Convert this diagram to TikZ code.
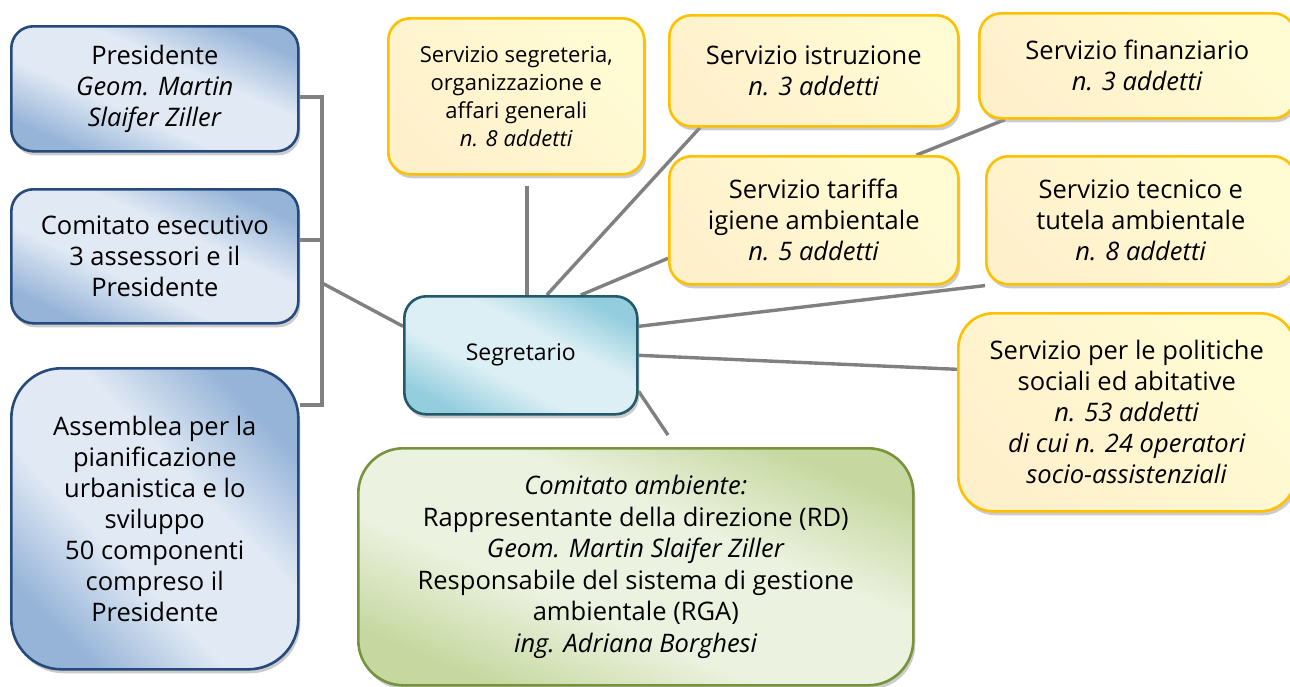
\documentclass[tikz,border=0pt]{standalone}
\usepackage{fontspec}
\setmainfont{Open Sans}
\usetikzlibrary{shadows,backgrounds}

\definecolor{bluedge}{RGB}{38,74,124}
\definecolor{bluelight}{RGB}{224,233,244}
\definecolor{bluedark}{RGB}{150,180,216}
\definecolor{yeledge}{RGB}{255,192,0}
\definecolor{yellight}{RGB}{255,252,212}
\definecolor{yeldark}{RGB}{255,240,204}
\definecolor{grnedge}{RGB}{119,147,60}
\definecolor{grnlight}{RGB}{236,242,224}
\definecolor{grndark}{RGB}{198,216,160}
\definecolor{tealedge}{RGB}{35,89,106}
\definecolor{teallight}{RGB}{220,239,244}
\definecolor{tealdark}{RGB}{148,206,222}
\definecolor{conngray}{RGB}{128,128,128}

\pgfdeclareverticalshading{bluband}{100bp}{color(0bp)=(bluedark); color(25bp)=(bluedark);
	color(41bp)=(bluelight); color(59bp)=(bluelight); color(75bp)=(bluedark); color(100bp)=(bluedark)}
\pgfdeclareverticalshading{grnband}{100bp}{color(0bp)=(grndark); color(25bp)=(grndark);
	color(41bp)=(grnlight); color(59bp)=(grnlight); color(75bp)=(grndark); color(100bp)=(grndark)}
\pgfdeclareverticalshading{tealband}{100bp}{color(0bp)=(tealdark); color(25bp)=(tealdark);
	color(41bp)=(teallight); color(59bp)=(teallight); color(75bp)=(tealdark); color(100bp)=(tealdark)}

\tikzset{
	boxbase/.style={draw, line width=2.6pt, inner sep=0pt, align=center, anchor=north west,
		rounded corners=22pt,
		drop shadow={shadow xshift=2pt, shadow yshift=-4pt, fill=black!40, opacity=.5}},
	blubox/.style={boxbase, draw=bluedge, shade, shading=bluband, shading angle=#1,
		font=\fontsize{25.5}{31}\selectfont},
	blubox/.default=135,
	yelbox/.style={boxbase, draw=yeledge, left color=yeldark, right color=yellight,
		shading angle=135, font=\fontsize{25.5}{31}\selectfont},
	grnbox/.style={boxbase, draw=grnedge, shade, shading=grnband, shading angle=157,
		font=\fontsize{25.5}{31.6}\selectfont},
	segbox/.style={boxbase, draw=tealedge, shade, shading=tealband, shading angle=153,
		font=\fontsize{23}{28}\selectfont},
	conn/.style={draw=conngray, line width=3.4pt},
}

\begin{document}
\begin{tikzpicture}[x=1pt, y=-1pt]
			%%%%% START %%%%%
			\useasboundingbox (0,0) rectangle (1290,686);
			
			% organi politici
			\node[blubox=156, minimum width=287pt, minimum height=125pt] (pres) at (10,25)
				{Presidente\\\textit{Geom. Martin}\\\textit{Slaifer Ziller}};
			\node[blubox=155, minimum width=287pt, minimum height=134pt] (comit) at (10,188)
				{Comitato esecutivo\\3 assessori e il\\Presidente};
			\node[blubox=134, rounded corners=50pt, minimum width=287pt, minimum height=301pt] (assem) at (10,367)
				{Assemblea per la\\pianificazione\\urbanistica e lo\\sviluppo\\50 componenti\\compreso il\\Presidente};
			
			% segretario
			\node[segbox, minimum width=233pt, minimum height=118pt] (segr) at (403,295) {Segretario};
			
			% servizi
			\node[yelbox, font=\fontsize{22}{28}\selectfont, minimum width=256pt, minimum height=156pt] (segre) at (387,17)
				{Servizio segreteria,\\organizzazione e\\affari generali\\\textit{n. 8 addetti}};
			\node[yelbox, minimum width=289pt, minimum height=111pt] (istr) at (668,14)
				{Servizio istruzione\\\textit{n. 3 addetti}};
			\node[yelbox, minimum width=316pt, minimum height=105pt] (fin) at (978,12)
				{Servizio finanziario\\\textit{n. 3 addetti}};
			\node[yelbox, minimum width=289pt, minimum height=128pt] (tarif) at (668,155)
				{Servizio tariffa\\igiene ambientale\\\textit{n. 5 addetti}};
			\node[yelbox, minimum width=309pt, minimum height=128pt] (tecn) at (985,155)
				{Servizio tecnico e\\tutela ambientale\\\textit{n. 8 addetti}};
			\node[yelbox, rounded corners=35pt, minimum width=337pt, minimum height=198pt] (pol) at (957,312)
				{Servizio per le politiche\\sociali ed abitative\\\textit{n. 53 addetti}\\\textit{di cui n. 24 operatori}\\\textit{socio-assistenziali}};
			
			% comitato ambiente
			\node[grnbox, rounded corners=45pt, minimum width=555pt, minimum height=237pt] (amb) at (357,447)
				{\textit{Comitato ambiente:}\\Rappresentante della direzione (RD)\\\textit{Geom. Martin Slaifer Ziller}\\Responsabile del sistema di gestione\\ambientale (RGA)\\\textit{ing. Adriana Borghesi}};
			
			\coordinate (brtop) at (322,97);
			\coordinate (brmid) at (322,240);
			\coordinate (brseg) at (322,283);
			\coordinate (brbot) at (322,405);
			\coordinate (ambstub) at (668,435);
			
			\begin{scope}[on background layer]
				\draw[conn] (pres.east |- brtop) -- (brtop) -- (brbot) -- (assem.east |- brbot);
				\draw[conn] (comit.east |- brmid) -- (brmid);
				\draw[conn] (brseg) -- ([yshift=29pt]segr.west);
				
				\draw[conn] ([xshift=6pt, yshift=-10pt]segr.north |- segre.south) -- ([xshift=6pt]segr.north);
				\draw[conn] ([xshift=26pt]segr.north) -- ([xshift=32pt]istr.south west);
				\draw[conn] ([xshift=60pt]segr.north) -- ([yshift=-38pt]tarif.west);
				\draw[conn] ([xshift=-43pt]tarif.north east) -- ([xshift=27pt]fin.south west);
				\draw[conn] ([yshift=29pt]segr.east) -- (tecn.south west);
				\draw[conn] (segr.east) -- ([yshift=43pt]pol.west);
				\draw[conn] ([yshift=-36pt]segr.east) -- (ambstub);
			\end{scope}
			
			%%%%% END %%%%%
\end{tikzpicture}
\end{document}
